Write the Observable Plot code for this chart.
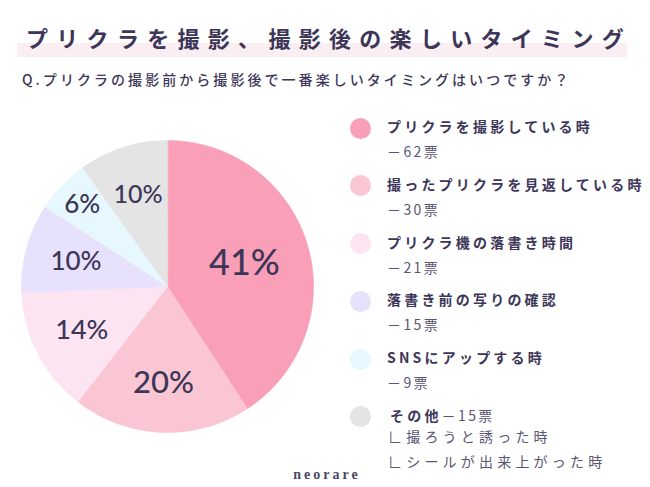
<!DOCTYPE html>
<html>
<head>
<meta charset="utf-8">
<script src="https://cdn.jsdelivr.net/npm/d3@7"></script>
<script src="https://cdn.jsdelivr.net/npm/@observablehq/plot@0.6"></script>
<style>
  html, body { margin: 0; padding: 0; background: #fff; }
  #wrap { position: relative; width: 650px; height: 487px; overflow: hidden; background: #fff;
    font-family: "Noto Sans CJK JP", "Noto Sans", sans-serif; color: #3d3659; }
  .band { position: absolute; left: 17px; top: 43px; width: 610px; height: 14px; background: #fbeef2; }
  .title { position: absolute; left: 26px; top: 24px; font-size: 22px; line-height: 26px; font-weight: 700;
    letter-spacing: 8.3px; white-space: nowrap; }
  .subtitle { position: absolute; left: 22px; top: 70px; font-size: 14px; line-height: 18px; font-weight: 500;
    letter-spacing: 3.05px; white-space: nowrap; }
  #pie { position: absolute; left: 21px; top: 140px; }
  #legend { position: absolute; left: 350px; top: 117px; }
  .row { position: relative; height: 57.8px; }
  .dot { position: absolute; left: 0; top: 0.5px; width: 21px; height: 21px; border-radius: 50%; }
  .lab { position: absolute; left: 37px; top: 0; font-size: 14px; line-height: 18px; font-weight: 700;
    letter-spacing: 3.2px; white-space: nowrap; }
  .sub { position: absolute; left: 37px; top: 25px; font-size: 14px; line-height: 18px; font-weight: 400;
    letter-spacing: 2.4px; white-space: nowrap; color: #5a5571; }
  .lab .cnt { font-weight: 400; color: #5a5571; letter-spacing: 2.4px; }
  .note { position: absolute; left: 38px; font-size: 14px; line-height: 18px; font-weight: 400;
    letter-spacing: 4.2px; white-space: nowrap; color: #5a5571; }
  .brand { position: absolute; left: 0; width: 650px; top: 467px; text-align: center; font-family: "Liberation Serif", serif;
    font-weight: 700; font-size: 14px; letter-spacing: 3px; color: #4a4566; padding-left: 2px; }
</style>
</head>
<body>
<div id="wrap">
  <div class="band"></div>
  <div class="title" id="title"></div>
  <div class="subtitle" id="subtitle"></div>
  <div id="pie"></div>
  <div id="legend"></div>
  <div class="brand" id="brand"></div>
</div>
<script>
// ---- data ----
const titleText = "プリクラを撮影、撮影後の楽しいタイミング";
const subtitleText = "Q.プリクラの撮影前から撮影後で一番楽しいタイミングはいつですか？";
const categories = ["プリクラを撮影している時", "撮ったプリクラを見返している時", "プリクラ機の落書き時間", "落書き前の写りの確認", "SNSにアップする時", "その他"];
const votes = [62, 30, 21, 15, 9, 15];
const colors = ["#f99fb7", "#fbc6d4", "#fde4f2", "#e7e1fb", "#e6f8fe", "#e4e4e4"];
const otherNotes = ["∟撮ろうと誘った時", "∟シールが出来上がった時"];
const brandText = "neorare";

// ---- layout (label placement) ----
const labelRadius = [0.55, 0.66, 0.66, 0.65, 0.81, 0.66];
const labelSize = [36, 31, 27, 26, 26, 25];

document.getElementById("title").textContent = titleText;
document.getElementById("subtitle").textContent = subtitleText;
document.getElementById("brand").textContent = brandText;

const total = d3.sum(votes);
const rows = categories.map((c, i) => ({ i, name: c, votes: votes[i], color: colors[i], pct: Math.round(votes[i] / total * 100) }));
const arcs = d3.pie().sort(null).value(d => d.votes)(rows);

const pts = arcs.flatMap((a, i) => {
  const n = Math.max(4, Math.ceil((a.endAngle - a.startAngle) / 0.01));
  const out = [{ k: i, x: 0, y: 0, c: a.data.color }];
  for (let j = 0; j <= n; j++) {
    const t = a.startAngle + (a.endAngle - a.startAngle) * j / n;
    out.push({ k: i, x: Math.sin(t), y: Math.cos(t), c: a.data.color });
  }
  return out;
});

const labels = arcs.map((a, i) => {
  const m = (a.startAngle + a.endAngle) / 2;
  return { x: Math.sin(m) * labelRadius[i], y: Math.cos(m) * labelRadius[i], text: a.data.pct + "%", size: labelSize[i] };
});

const R = 146;
const chart = Plot.plot({
  width: 2 * R, height: 2 * R, margin: 0,
  x: { domain: [-1, 1], axis: null },
  y: { domain: [-1, 1], axis: null },
  color: { type: "identity" },
  style: { background: "transparent", overflow: "visible" },
  marks: [
    Plot.line(pts, { x: "x", y: "y", z: "k", fill: "c", stroke: "c", strokeWidth: 0.6, curve: "linear-closed" }),
    Plot.text(labels, { x: "x", y: "y", text: "text", fontSize: "size", fill: "#3d3659",
      fontFamily: "Lato, 'Open Sans', sans-serif", fontWeight: 500, letterSpacing: "0.5px" })
  ]
});
document.getElementById("pie").appendChild(chart);

// legend
const legend = document.getElementById("legend");
rows.forEach((r, i) => {
  const row = document.createElement("div");
  row.className = "row";
  const dot = document.createElement("div");
  dot.className = "dot";
  dot.style.background = r.color;
  row.appendChild(dot);
  const lab = document.createElement("div");
  lab.className = "lab";
  if (i === rows.length - 1) {
    lab.style.left = "40px";
    lab.textContent = r.name;
    const cnt = document.createElement("span");
    cnt.className = "cnt";
    cnt.textContent = "－" + r.votes + "票";
    lab.appendChild(cnt);
    row.appendChild(lab);
    otherNotes.forEach((t, j) => {
      const n = document.createElement("div");
      n.className = "note";
      n.style.top = (21 + j * 25) + "px";
      n.textContent = t;
      row.appendChild(n);
    });
  } else {
    lab.textContent = r.name;
    row.appendChild(lab);
    const sub = document.createElement("div");
    sub.className = "sub";
    sub.textContent = "－" + r.votes + "票";
    row.appendChild(sub);
  }
  legend.appendChild(row);
});
</script>
</body>
</html>
